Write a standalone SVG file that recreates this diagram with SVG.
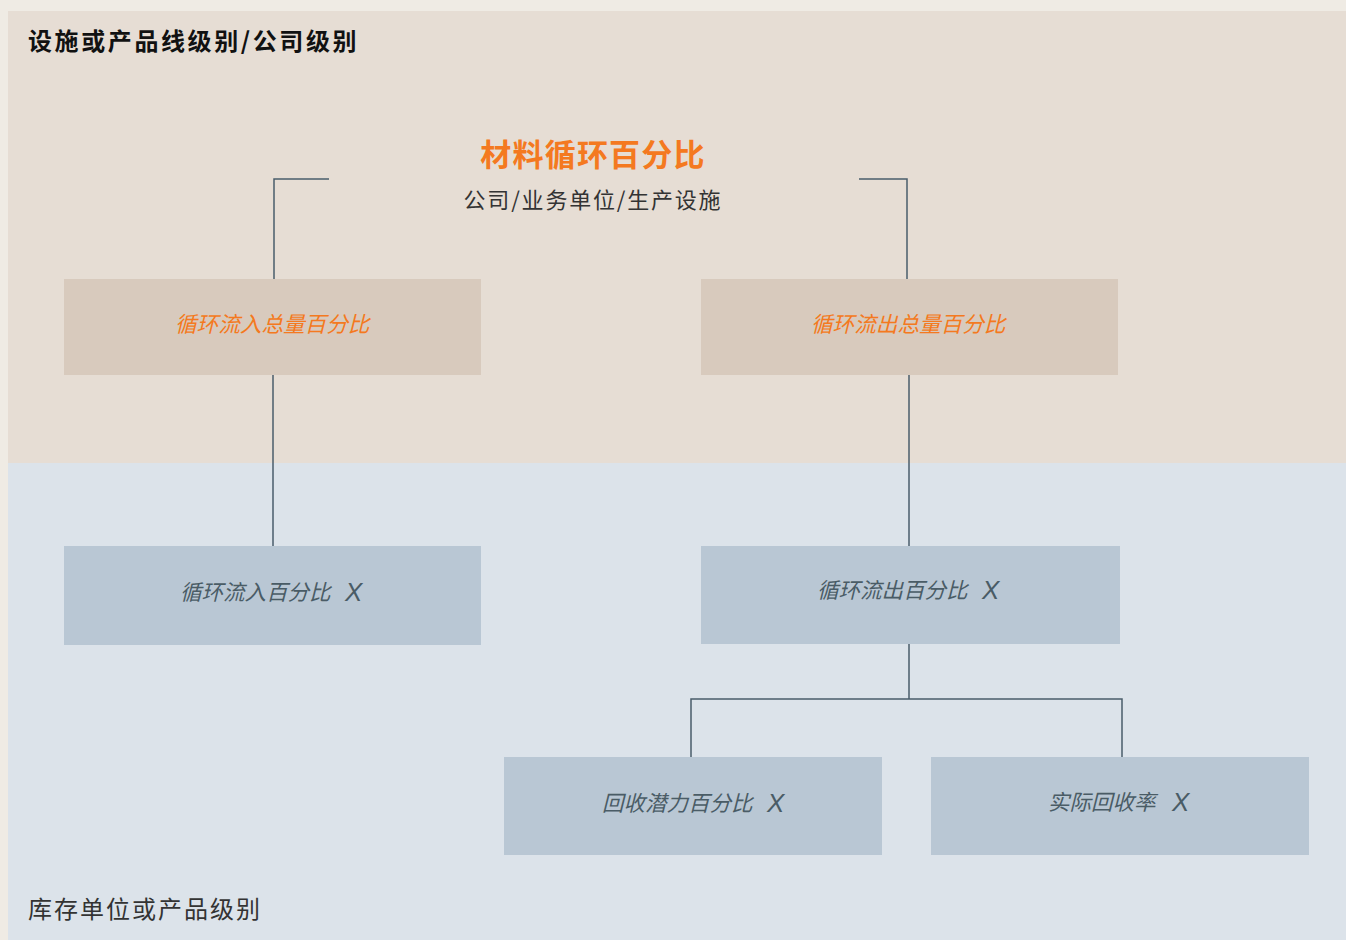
<svg xmlns="http://www.w3.org/2000/svg" width="1346" height="940" viewBox="0 0 1346 940">
<style>
.t{font-family:"Noto Sans CJK SC","Noto Sans",sans-serif}
.hd{font-size:24px;font-weight:700;fill:#111;letter-spacing:2.6px}
.ft{font-size:24px;fill:#333;letter-spacing:2px}
.ttl{font-size:31px;font-weight:700;fill:#f47920;letter-spacing:1.2px}
.sub{font-size:22px;fill:#333;letter-spacing:1.8px}
.bo{fill:#d8cabd}
.bb{fill:#b9c7d4}
.lo{font-size:21.6px;font-style:italic;fill:#f47920}
.lb{font-size:21.5px;font-style:italic;fill:#4a5c66}
.x{font-family:"Liberation Sans",sans-serif;font-size:26px}
.cn{fill:none;stroke:#4a5d6b;stroke-width:1.5}
</style>
<rect x="0" y="0" width="1346" height="940" fill="#efebe4"/>
<rect x="8" y="11" width="1338" height="452" fill="#e6ddd4"/>
<rect x="8" y="463" width="1338" height="477" fill="#dce3ea"/>
<text class="t hd" x="28" y="50">设施或产品线级别/公司级别</text>
<text class="t ft" x="28" y="918">库存单位或产品级别</text>
<g id="title">
<text class="t ttl" x="593" y="166" text-anchor="middle">材料循环百分比</text>
<text class="t sub" x="593" y="208" text-anchor="middle">公司/业务单位/生产设施</text>
</g>
<g id="connectors">
<path class="cn" d="M329,179 H274 V279"/>
<path class="cn" d="M859,179 H907 V279"/>
<path class="cn" d="M273,375 V546"/>
<path class="cn" d="M909,375 V546"/>
<path class="cn" d="M909,644 V699 M691,757 V699 H1122 V757"/>
</g>
<g id="inflow-total">
<rect class="bo" x="64" y="279" width="417" height="96"/>
<text class="t lo" x="175" y="332">循环流入总量百分比</text>
</g>
<g id="outflow-total">
<rect class="bo" x="701" y="279" width="417" height="96"/>
<text class="t lo" x="811" y="332">循环流出总量百分比</text>
</g>
<g id="inflow">
<rect class="bb" x="64" y="546" width="417" height="99"/>
<text class="t lb" x="180" y="600">循环流入百分比<tspan class="x" x="345" y="601">X</tspan></text>
</g>
<g id="outflow">
<rect class="bb" x="701" y="546" width="419" height="98"/>
<text class="t lb" x="817" y="598">循环流出百分比<tspan class="x" x="982" y="599">X</tspan></text>
</g>
<g id="recovery-potential">
<rect class="bb" x="504" y="757" width="378" height="98"/>
<text class="t lb" x="602" y="811">回收潜力百分比<tspan class="x" x="767" y="812">X</tspan></text>
</g>
<g id="actual-recovery">
<rect class="bb" x="931" y="757" width="378" height="98"/>
<text class="t lb" x="1048" y="810">实际回收率<tspan class="x" x="1172" y="811">X</tspan></text>
</g>
</svg>
